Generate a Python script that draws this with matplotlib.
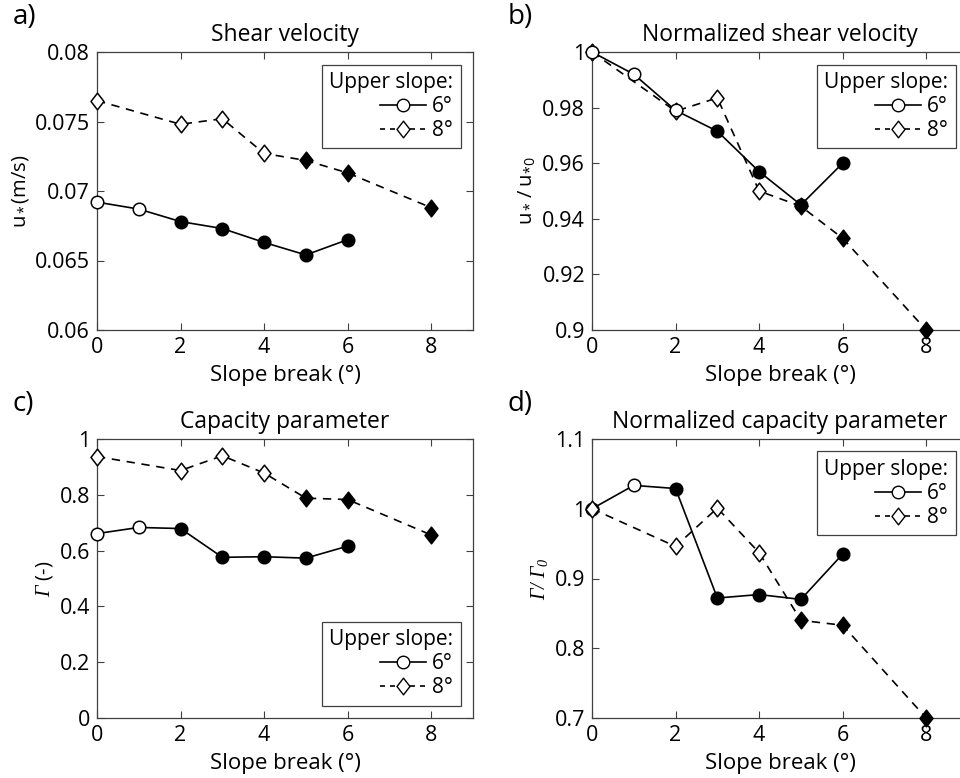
import numpy as np
import matplotlib
matplotlib.use('Agg')
import matplotlib.pyplot as plt
from matplotlib.lines import Line2D
from matplotlib.path import Path

plt.rcParams['font.family'] = ['Open Sans', 'DejaVu Sans']
plt.rcParams['mathtext.fontset'] = 'custom'
# greek capitals are always taken from the rm font, so rm is the italic serif here
plt.rcParams['mathtext.rm'] = 'Liberation Serif:italic'
plt.rcParams['mathtext.it'] = 'Liberation Serif:italic'

# slope break positions (deg)
x6 = [0, 1, 2, 3, 4, 5, 6]
x8 = [0, 2, 3, 4, 5, 6, 8]

# which points are drawn hollow
open6 = [True, True, False, False, False, False, False]
open6_b = [True, True, True, False, False, False, False]
open8 = [True, True, True, True, False, False, False]

# a) shear velocity (m/s)
ustar_6 = [0.0692, 0.0687, 0.0678, 0.0673, 0.0663, 0.0654, 0.0665]
ustar_8 = [0.0765, 0.0748, 0.0752, 0.0727, 0.0722, 0.0713, 0.0688]

# b) normalized shear velocity
unorm_6 = [1.0, 0.992, 0.979, 0.9715, 0.957, 0.945, 0.960]
unorm_8 = [1.0, 0.9787, 0.9835, 0.950, 0.9445, 0.933, 0.900]

# c) capacity parameter
gamma_6 = [0.661, 0.683, 0.679, 0.576, 0.578, 0.573, 0.616]
gamma_8 = [0.937, 0.887, 0.940, 0.878, 0.788, 0.783, 0.656]

# d) normalized capacity parameter
gnorm_6 = [1.0, 1.0335, 1.029, 0.872, 0.877, 0.870, 0.935]
gnorm_8 = [1.0, 0.946, 1.001, 0.937, 0.840, 0.833, 0.700]

xticks = [0, 2, 4, 6, 8]

# diamond a bit taller than wide, like the matlab one
DIAMOND = Path([(0, 1), (0.78, 0), (0, -1), (-0.78, 0), (0, 1)],
               [Path.MOVETO, Path.LINETO, Path.LINETO, Path.LINETO, Path.CLOSEPOLY])
DMS = 12

W, H = 960, 778
fig = plt.figure(figsize=(W / 100, H / 100), dpi=100)

def px_axes(left, top, right, bottom):
  return fig.add_axes([left / W, 1 - bottom / H, (right - left) / W, (bottom - top) / H])

def draw_series(ax, x, y, hollow, marker, ls, ms):
  ax.plot(x, y, color='black', lw=1.2, ls=ls, zorder=2, clip_on=False)
  for xi, yi, h in zip(x, y, hollow):
    ax.plot([xi], [yi], marker=marker, ms=ms, mec='black', mew=1.1,
            mfc='white' if h else 'black', ls='none', zorder=3, clip_on=False)

def style_axes(ax, ylim, yticks, yticklabels, ylabel, title, tag, legend_loc):
  ax.set_xlim(0, 9)
  ax.set_ylim(*ylim)
  ax.set_xticks(xticks)
  ax.set_yticks(yticks)
  ax.set_yticklabels(yticklabels)
  ax.tick_params(direction='in', top=True, right=True, length=5, width=0.8,
                 labelsize=15.5, colors='#404040', labelcolor='black', pad=5)
  for s in ax.spines.values():
    s.set_color('#404040')
    s.set_linewidth(0.9)
  ax.set_xlabel('Slope break (°)', fontsize=16, labelpad=5)
  ax.set_ylabel(ylabel, fontsize=14.5, labelpad=3)
  ax.set_title(title, fontsize=16.5, pad=8)
  ax.text(-0.225, 1.125, tag, transform=ax.transAxes, fontsize=20, ha='left', va='center')
  handles = [Line2D([0], [0], color='black', lw=1.2, marker='o', ms=9, mfc='white', mec='black'),
             Line2D([0], [0], color='black', lw=1.2, ls=(0, (3, 3)), marker=DIAMOND, ms=DMS,
                    mfc='white', mec='black')]
  leg = ax.legend(handles, ['6°', '8°'], title='Upper slope:', loc=legend_loc,
                  fontsize=15, title_fontsize=15, frameon=True, fancybox=False,
                  edgecolor='#404040', framealpha=1, alignment='right',
                  handlelength=2.2, handletextpad=0.3, borderaxespad=0.6,
                  borderpad=0.35, labelspacing=0.15)
  leg.get_frame().set_linewidth(0.9)

dash = (0, (5, 4))

# a)
ax = px_axes(97, 52, 473, 330)
draw_series(ax, x6, ustar_6, open6, 'o', '-', 9)
draw_series(ax, x8, ustar_8, open8, DIAMOND, dash, DMS)
style_axes(ax, (0.06, 0.08), [0.06, 0.065, 0.07, 0.075, 0.08],
           ['0.06', '0.065', '0.07', '0.075', '0.08'],
           r'$\mathregular{u_*}$(m/s)', 'Shear velocity', 'a)', 'upper right')

# b)
ax = px_axes(592, 52, 968, 330)
draw_series(ax, x8, unorm_8, open8, DIAMOND, dash, DMS)
draw_series(ax, x6, unorm_6, open6_b, 'o', '-', 9)
style_axes(ax, (0.9, 1.0), [0.9, 0.92, 0.94, 0.96, 0.98, 1.0],
           ['0.9', '0.92', '0.94', '0.96', '0.98', '1'],
           r'$\mathregular{u_*\,/\;u_{*0}}$', 'Normalized shear velocity', 'b)', 'upper right')

# c)
ax = px_axes(97, 439, 473, 718)
draw_series(ax, x6, gamma_6, open6, 'o', '-', 9)
draw_series(ax, x8, gamma_8, open8, DIAMOND, dash, DMS)
style_axes(ax, (0, 1), [0, 0.2, 0.4, 0.6, 0.8, 1.0],
           ['0', '0.2', '0.4', '0.6', '0.8', '1'],
           r'$\mathrm{Γ}$ (-)', 'Capacity parameter', 'c)', 'lower right')

# d)
ax = px_axes(592, 439, 968, 718)
draw_series(ax, x6, gnorm_6, open6, 'o', '-', 9)
draw_series(ax, x8, gnorm_8, open8, DIAMOND, dash, DMS)
style_axes(ax, (0.7, 1.1), [0.7, 0.8, 0.9, 1.0, 1.1],
           ['0.7', '0.8', '0.9', '1', '1.1'],
           r'$\mathrm{Γ/\ Γ_0}$', 'Normalized capacity parameter', 'd)', 'upper right')

fig.savefig('out.png', dpi=100)
